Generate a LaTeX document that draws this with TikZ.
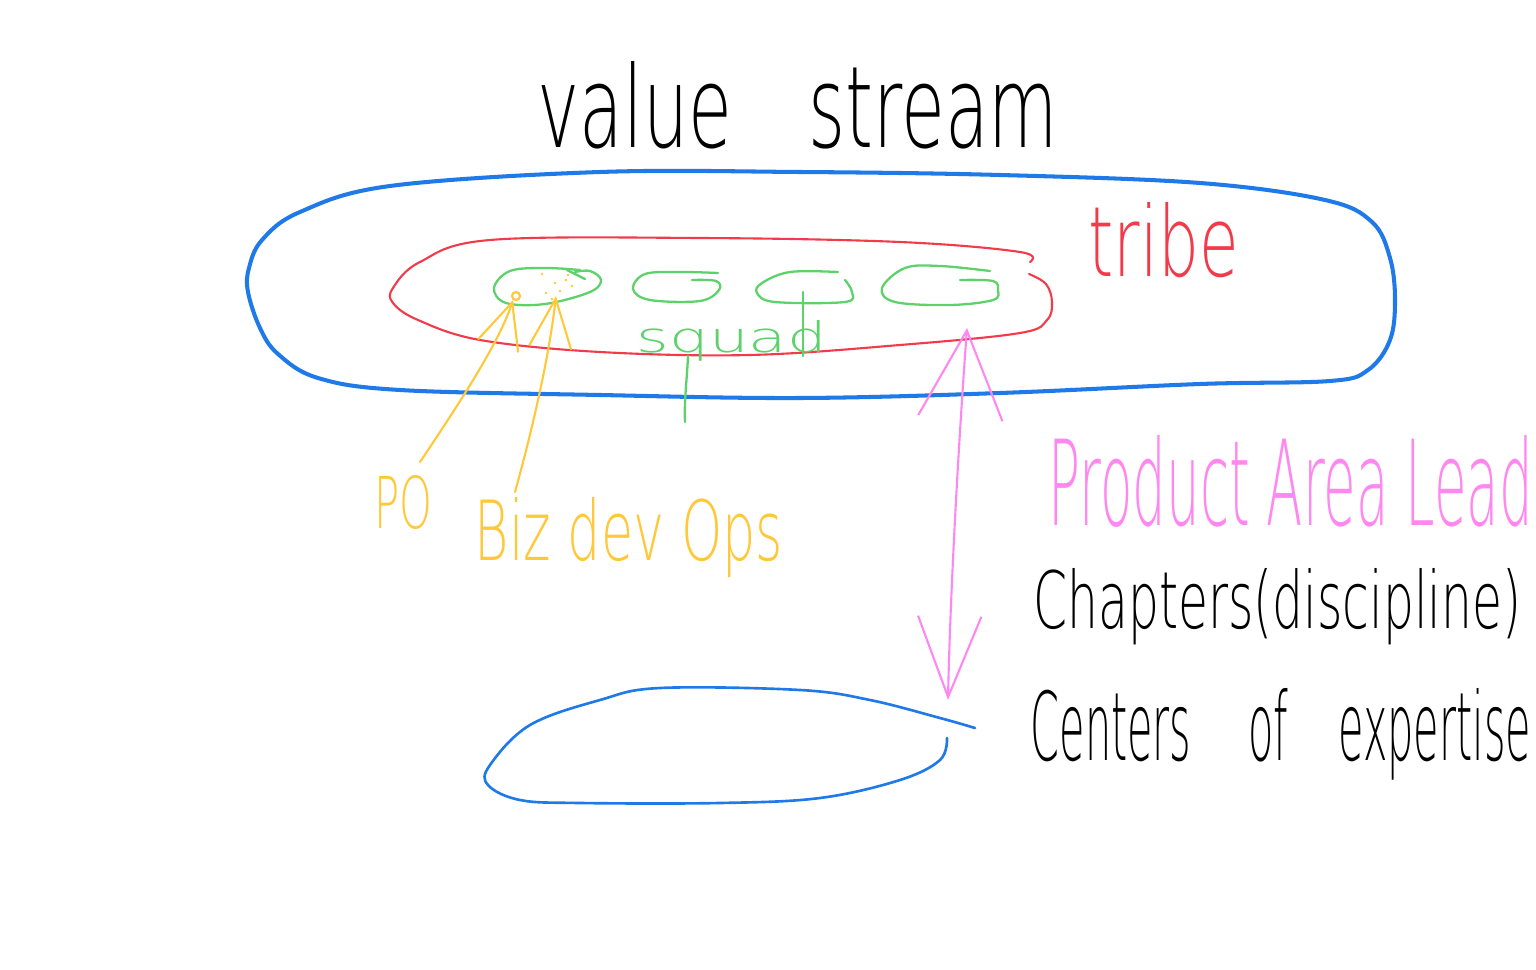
\documentclass[tikz,border=0pt]{standalone}
\usepackage{fontspec}
\setmainfont{DejaVu Sans ExtraLight}
\usepackage{graphicx}
\usetikzlibrary{arrows.meta}
\definecolor{vsblue}{HTML}{1F7AE8}
\definecolor{trred}{HTML}{F23A4A}
\definecolor{sqgreen}{HTML}{5DD16A}
\definecolor{poyel}{HTML}{FFC83A}
\definecolor{papink}{HTML}{FF88F0}
\newcommand{\hw}[3]{\resizebox{#1cm}{#2cm}{#3}}
\tikzset{
  txt/.style={anchor=base west, inner sep=0pt},
  bigblue/.style={draw=vsblue, line width=1.15pt, line join=round, line cap=round},
  smallblue/.style={draw=vsblue, line width=0.75pt, line join=round, line cap=round},
  redline/.style={draw=trred, line width=0.6pt, line join=round, line cap=round},
  greenline/.style={draw=sqgreen, line width=0.65pt, line join=round, line cap=round},
  yelline/.style={draw=poyel, line width=0.6pt, line cap=round},
  pinkline/.style={draw=papink, line width=0.6pt, line cap=round},
}
\begin{document}
\begin{tikzpicture}[x=0.01cm, y=-0.01cm]
\useasboundingbox (0,0) rectangle (1536,970);

% value stream outline
\draw[bigblue] plot[smooth cycle, tension=0.6] coordinates {
  (249,268) (262,240) (300,212) (390,186) (600,172) (800,172) (1000,175)
  (1200,183) (1325,200) (1372,222) (1390,258) (1395,300) (1390,340)
  (1368,370) (1330,381) (1200,384) (1000,393) (800,398) (600,395)
  (400,390) (318,378) (278,354) (260,328) (248,292)};

% tribe outline (open near top right)
\draw[redline] plot[smooth, tension=0.6] coordinates {
  (1029,274) (1046,284) (1052,302) (1047,320) (1020,333) (900,345)
  (750,355) (600,352) (480,340) (418,320) (393,303) (393,288) (420,262)
  (490,240) (700,238) (900,242) (1020,252) (1030,262)};

% squads
\draw[greenline] plot[smooth, tension=0.6] coordinates {
  (580,270) (545,268) (510,271) (494,288) (506,303) (545,304)
  (590,292) (601,280) (590,271) (575,272)};
\draw[greenline] plot[smooth, tension=0.6] coordinates {(567,270) (585,279)};
\draw[greenline] plot[smooth, tension=0.6] coordinates {
  (718,273) (680,272) (645,274) (633,289) (650,300) (700,301)
  (719,290) (716,281) (692,280)};
\draw[greenline] plot[smooth, tension=0.6] coordinates {
  (838,272) (790,272) (762,283) (757,293) (775,302) (845,302)
  (852,292) (845,280)};
\draw[greenline] plot[smooth, tension=0.6] coordinates {
  (990,271) (940,266) (905,268) (882,288) (895,302) (950,305)
  (993,300) (998,290) (993,281) (960,280)};

% yellow dots inside first squad
\foreach \p in {(542,274),(555,283),(560,291),(566,280),(572,286),(546,293),(552,299),(568,275)}
  \fill[poyel] \p circle (1.3);
\draw[yelline] (516,296) circle (4);

% bottom chapter outline
\draw[smallblue] plot[smooth, tension=0.6] coordinates {
  (975,728) (940,718) (870,700) (800,690) (660,688) (600,700)
  (530,725) (490,765) (488,785) (520,800) (580,803) (720,803)
  (820,798) (900,780) (940,760) (947,738)};

% texts
\node[txt] (vs) at (537,148) {\hw{5.2}{0.86}{value\hspace{0.75em} stream}};
\node[txt, text=trred] (tribe) at (1088,277) {\hw{1.5}{0.74}{tribe}};
\node[txt, text=sqgreen] (squad) at (636,352) {\hw{1.9}{0.32}{squad}};
\node[txt, text=poyel] (po) at (374,528) {\hw{0.58}{0.53}{PO}};
\node[txt, text=poyel] (biz) at (474,560) {\hw{3.08}{0.63}{Biz dev Ops}};
\node[txt, text=papink] (pal) at (1048,525) {\hw{4.84}{0.9}{Product Area Lead}};
\node[txt] (chap) at (1033,628) {\hw{4.87}{0.6}{Chapters(discipline)}};
\node[txt] (coe) at (1030,760) {\hw{5.0}{0.72}{Centers\hspace{1.05em} of\hspace{0.9em} expertise}};

% connector end points
\coordinate (poS) at (420,462);
\coordinate (poT) at (513,300);
\coordinate (bizS) at (515,492);
\coordinate (bizT) at (556,296);
\coordinate (sqA) at (688,356);
\coordinate (sqB) at (685,422);
\coordinate (sq3a) at (803,292);
\coordinate (sq3b) at (803,356);
\coordinate (sq4T) at (967,328);
\coordinate (chT) at (948,700);

% connectors
\draw[yelline, -{Straight Barb[length=13pt, width=12pt]}] (poS) .. controls (465,395) and (500,340) .. (poT);
\draw[yelline, -{Straight Barb[length=14pt, width=12pt]}] (bizS) .. controls (535,420) and (550,350) .. (bizT);
\draw[greenline] (sqA) .. controls (687,380) and (684,400) .. (sqB);
\draw[greenline] (sq3a) -- (sq3b);
\draw[pinkline, {Straight Barb[length=25pt, width=24pt]}-{Straight Barb[length=23pt, width=18pt]}]
  (sq4T) .. controls (958,450) and (950,600) .. (chT);
\end{tikzpicture}
\end{document}
